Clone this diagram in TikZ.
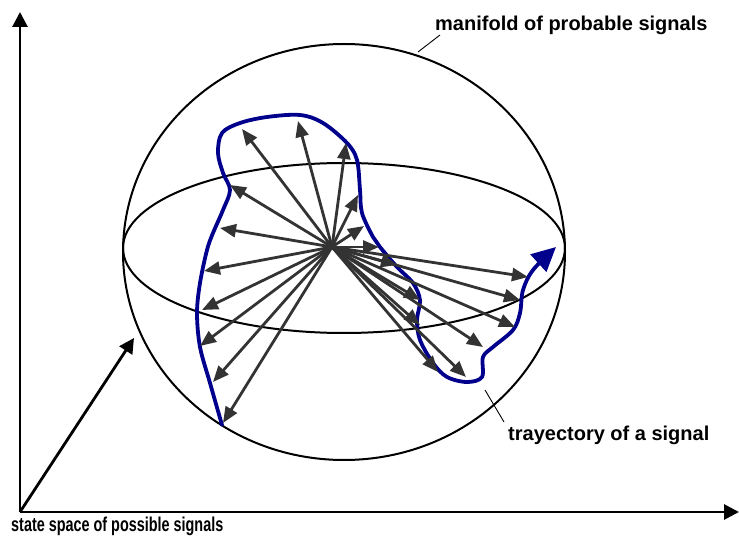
\documentclass[tikz,border=0pt]{standalone}
\usepackage{fontspec}
\setmainfont{Liberation Sans}
\usepackage{graphicx}
\usetikzlibrary{arrows.meta}
\definecolor{vecgray}{HTML}{333333}
\definecolor{trajblue}{HTML}{00008C}
\begin{document}
\begin{tikzpicture}[x=1pt,y=-1pt,
  sphereline/.style={draw=black,line width=2pt},
  axisline/.style={draw=black,line width=2.8pt,-{Triangle[length=15pt,width=15pt]}},
  vec/.style={draw=vecgray,line width=2.8pt,-{Triangle[length=16pt,width=13pt]}},
  traj/.style={draw=trajblue,line width=3.8pt,line cap=round,-{Triangle[length=24pt,width=23pt]}},
  leader/.style={draw=black,line width=0.9pt},
  lbl/.style={font=\fontsize{20}{24}\selectfont\bfseries,inner sep=0pt}]
\useasboundingbox (0,0) rectangle (739,545);
% sphere
\draw[sphereline] (344,252) ellipse [x radius=221, y radius=208];
\draw[sphereline] (344,248) ellipse [x radius=221, y radius=85];
% axes
\coordinate (O) at (20,512);
\coordinate (ytip) at (20,12);
\coordinate (xtip) at (739,512);
\coordinate (dtip) at (134,338);
\draw[axisline] (O) -- (ytip);
\draw[axisline] (O) -- (xtip);
\draw[axisline] (O) -- (dtip);
% trajectory
\draw[traj] plot[smooth,tension=0.55] coordinates {
 (222,425) (210,383) (200,347) (197,313) (200,283) (207,250) (213,233)
 (223,210) (230,190) (223,173) (218,153) (222,133) (240,123) (267,117)
 (300,115) (323,123) (347,143) (357,160) (360,190) (362,213) (373,237)
 (380,247) (397,267) (413,283) (420,300) (417,320) (420,340) (433,363)
 (447,377) (467,382) (482,377) (483,357) (493,347) (513,330) (520,313)
 (523,290) (533,270) (556,247)};
% vectors
\coordinate (hub) at (332,247);
\coordinate (a1) at (242,129);
\coordinate (a2) at (298,121);
\coordinate (a3) at (346,143);
\coordinate (a4) at (230,185);
\coordinate (a5) at (358,195);
\coordinate (a6) at (220,228);
\coordinate (a7) at (364,226);
\coordinate (a8) at (204,271);
\coordinate (a9) at (379,247);
\coordinate (a10) at (202,310);
\coordinate (a11) at (200,346);
\coordinate (a12) at (213,382);
\coordinate (a13) at (223,423);
\coordinate (b1) at (397,265);
\coordinate (b2) at (420,300);
\coordinate (b3) at (420,325);
\coordinate (b4) at (438,372);
\coordinate (b5) at (466,377);
\coordinate (b6) at (483,347);
\coordinate (b7) at (515,327);
\coordinate (b8) at (520,300);
\coordinate (b9) at (528,277);
\foreach \t in {a1,a2,a3,a4,a5,a6,a7,a8,a9,a10,a11,a12,a13,b1,b2,b3,b4,b5,b6,b7,b8,b9}
  \draw[vec] (hub) -- (\t);
% labels
\node[lbl,anchor=base west] (mlab) at (435,31) {manifold of probable signals};
\coordinate (m1) at (440,35);
\coordinate (m2) at (418,52);
\draw[leader] (m1) -- (m2);
\node[lbl,anchor=base west] (tlab) at (508,440) {trayectory of a signal};
\coordinate (t1) at (504,422);
\coordinate (t2) at (485,390);
\draw[leader] (t1) -- (t2);
\node[lbl,anchor=base west] (slab) at (11,531) {\scalebox{0.72}[1]{state space of possible signals}};
\end{tikzpicture}
\end{document}
